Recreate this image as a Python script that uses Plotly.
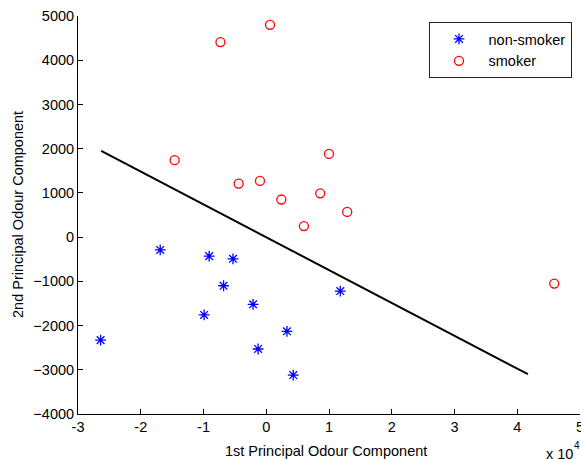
import plotly.graph_objects as go

# data (x values shown in units of 1e4 via "x 10^4")
nonsmoker_x = [-26400, -16900, -9100, -5300, -6800, -9900, -2100, -1300, 3300, 4300, 11800]
nonsmoker_y = [-2330, -290, -430, -490, -1100, -1760, -1520, -2530, -2130, -3120, -1220]
smoker_x = [-7300, 600, -14600, -4400, -1000, 2400, 6000, 10000, 8600, 12900, 45900]
smoker_y = [4410, 4800, 1740, 1210, 1270, 850, 250, 1880, 990, 570, -1050]
line_x = [-26300, 41700]
line_y = [1950, -3100]

x_tickvals = [-30000, -20000, -10000, 0, 10000, 20000, 30000, 40000, 50000]
x_ticktext = ["-3", "-2", "-1", "0", "1", "2", "3", "4", "5"]
y_tickvals = [-4000, -3000, -2000, -1000, 0, 1000, 2000, 3000, 4000, 5000]

FONT = "Liberation Sans"
FS = 14.5

W, H = 581, 459
# plot area in page pixels: left 78, right 580, top 16, bottom 414
L, R, T, B = 78, W - 580, 16, H - 414
PW, PH = W - L - R, H - T - B

def px_x(p):
    return (p - L) / PW

def px_y(p):
    return (H - B - p) / PH

fig = go.Figure()
fig.add_trace(go.Scatter(x=line_x, y=line_y, mode="lines",
                         line=dict(color="black", width=2), showlegend=False))
fig.add_trace(go.Scatter(x=nonsmoker_x, y=nonsmoker_y, mode="markers", name="non-smoker",
                         marker=dict(symbol="asterisk-open", size=9, color="blue",
                                     line=dict(color="blue", width=1.3))))
fig.add_trace(go.Scatter(x=smoker_x, y=smoker_y, mode="markers", name="smoker",
                         marker=dict(symbol="circle-open", size=9, color="red",
                                     line=dict(color="red", width=1.3))))

fig.update_layout(
    width=W, height=H,
    margin=dict(l=L, r=R, t=T, b=B, autoexpand=False),
    paper_bgcolor="white", plot_bgcolor="white",
    font=dict(family=FONT, size=FS, color="black"),
    showlegend=True,
    legend=dict(x=px_x(428.5), y=px_y(22), xanchor="left", yanchor="top",
                bordercolor="#222", borderwidth=1, bgcolor="white",
                font=dict(family=FONT, size=FS), tracegroupgap=0,
                itemwidth=49),
    xaxis=dict(range=[-30000, 50000], tickvals=x_tickvals, ticktext=x_ticktext,
               showgrid=False, zeroline=False, showline=True, linecolor="black",
               linewidth=1, ticks="inside", ticklen=5, tickcolor="black",
               automargin=False, ticklabelstandoff=0, ticklabeloverflow="allow"),
    yaxis=dict(range=[-4000, 5000], tickvals=y_tickvals,
               showgrid=False, zeroline=False, showline=True, linecolor="black",
               linewidth=1, ticks="inside", ticklen=5, tickcolor="black",
               automargin=False, ticklabeloverflow="allow"),
    annotations=[
        dict(text="1st Principal Odour Component", xref="paper", yref="paper",
             x=px_x(326), y=px_y(451), xanchor="center", yanchor="middle",
             showarrow=False, font=dict(family=FONT, size=FS)),
        dict(text="2nd Principal Odour Component", xref="paper", yref="paper",
             x=px_x(18), y=px_y(215), xanchor="center", yanchor="middle",
             textangle=-90, showarrow=False, font=dict(family=FONT, size=FS)),
        dict(text="x 10", xref="paper", yref="paper",
             x=px_x(575), y=px_y(454), xanchor="right", yanchor="middle",
             showarrow=False, font=dict(family=FONT, size=FS)),
        dict(text="4", xref="paper", yref="paper",
             x=px_x(572), y=px_y(445), xanchor="left", yanchor="middle",
             showarrow=False, font=dict(family=FONT, size=10)),
    ],
)

fig.write_html("out.html",
               config={"displayModeBar": False},
               post_script="document.body.style.margin='0';"
                           "document.body.style.overflow='hidden';")
